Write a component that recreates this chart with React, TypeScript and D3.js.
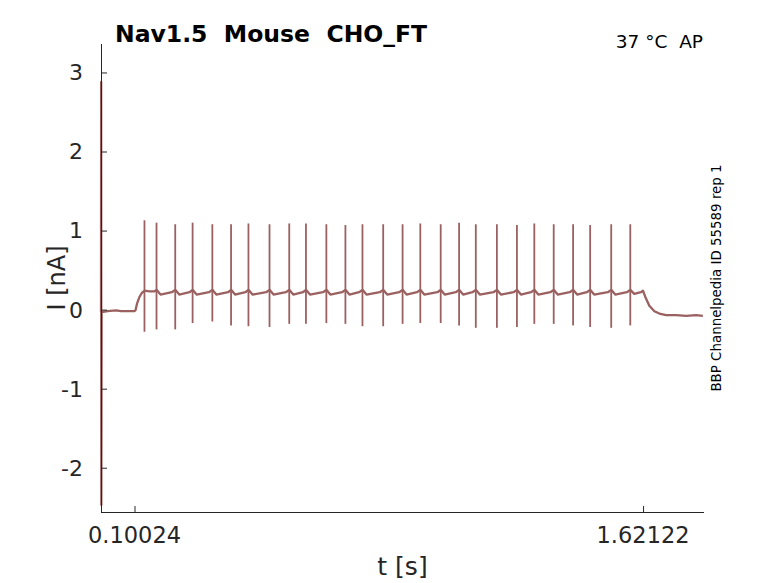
import React, { useEffect, useRef } from 'react'
import * as d3 from 'd3'

// trace key points (t in s, I in nA)
const baseT = [
  0, 0.0005, 0.001, 0.002, 0.02, 0.045, 0.06, 0.08, 0.1, 0.103, 0.108, 0.115, 0.122, 0.128,
  0.13, 0.145, 0.16, 0.166, 0.178, 0.212, 0.222, 0.234, 0.265, 0.274, 0.286, 0.323, 0.333, 0.345,
  0.38, 0.389, 0.401, 0.432, 0.441, 0.453, 0.494, 0.504, 0.516, 0.553, 0.563, 0.575, 0.604, 0.613,
  0.625, 0.664, 0.674, 0.686, 0.721, 0.731, 0.743, 0.772, 0.782, 0.794, 0.834, 0.844, 0.856, 0.892,
  0.902, 0.914, 0.945, 0.955, 0.967, 1.006, 1.016, 1.028, 1.061, 1.071, 1.083, 1.111, 1.121, 1.133,
  1.174, 1.184, 1.196, 1.234, 1.244, 1.256, 1.286, 1.296, 1.308, 1.344, 1.354, 1.366, 1.402, 1.412,
  1.424, 1.453, 1.463, 1.475, 1.516, 1.526, 1.538, 1.573, 1.583, 1.595, 1.615, 1.621, 1.628, 1.64,
  1.655, 1.67, 1.69, 1.72, 1.75, 1.78, 1.8,
]
const baseI = [
  -0.03, 2.88, -2.47, -0.03, -0.02, -0.01, -0.02, -0.02, -0.02, -0.01, 0.08, 0.16, 0.21, 0.23,
  0.24, 0.23, 0.23, 0.25, 0.19, 0.22, 0.25, 0.19, 0.22, 0.25, 0.19, 0.22, 0.25, 0.19,
  0.22, 0.25, 0.19, 0.22, 0.25, 0.19, 0.22, 0.25, 0.19, 0.22, 0.25, 0.19, 0.22, 0.25,
  0.19, 0.22, 0.25, 0.19, 0.22, 0.25, 0.19, 0.22, 0.25, 0.19, 0.22, 0.25, 0.19, 0.22,
  0.25, 0.19, 0.22, 0.25, 0.19, 0.22, 0.25, 0.19, 0.22, 0.25, 0.19, 0.22, 0.25, 0.19,
  0.22, 0.25, 0.19, 0.22, 0.25, 0.19, 0.22, 0.25, 0.19, 0.22, 0.25, 0.19, 0.22, 0.25,
  0.19, 0.22, 0.25, 0.19, 0.22, 0.25, 0.19, 0.22, 0.25, 0.2, 0.22, 0.24, 0.16, 0.05,
  -0.02, -0.05, -0.07, -0.07, -0.08, -0.07, -0.08,
]

// action potential spikes
const spikeT = [
  0.13, 0.166, 0.222, 0.274, 0.333, 0.389, 0.441, 0.504, 0.563, 0.613, 0.674, 0.731, 0.782, 0.844,
  0.902, 0.955, 1.016, 1.071, 1.121, 1.184, 1.244, 1.296, 1.354, 1.412, 1.463, 1.526, 1.583,
]
const spikePeak = [
  1.13, 1.1, 1.08, 1.1, 1.08, 1.08, 1.09, 1.08, 1.09, 1.09, 1.08, 1.07, 1.08, 1.08,
  1.08, 1.09, 1.08, 1.1, 1.08, 1.08, 1.07, 1.09, 1.08, 1.08, 1.07, 1.08, 1.08,
]
const spikeTrough = [
  -0.28, -0.25, -0.25, -0.17, -0.15, -0.2, -0.21, -0.22, -0.18, -0.18, -0.17, -0.18, -0.21, -0.21,
  -0.18, -0.17, -0.17, -0.2, -0.23, -0.23, -0.22, -0.18, -0.18, -0.2, -0.22, -0.23, -0.2,
]

const xTicks = [0.10024, 1.62122]
const yTicks = [-2, -1, 0, 1, 2, 3]

const W = 778
const H = 583
const left = 101
const right = 704
const top = 44
const bottom = 512
const traceColor = '#9b6060'
const axisColor = '#262626'
const font = '"DejaVu Sans", sans-serif'

const App = () => {
  const refSvg = useRef<SVGSVGElement>(null)

  const draw = () => {
    const svg = d3.select(refSvg.current)
    svg.selectAll('*').remove()

    const x = d3.scaleLinear().domain([0, 1.8035]).range([left, right])
    const y = d3.scaleLinear().domain([-2.56, 3.36]).range([bottom, top])

    const pts: [number, number][] = baseT.map((t, i) => [t, baseI[i]])

    svg
      .append('path')
      .datum(pts)
      .attr('fill', 'none')
      .attr('stroke', traceColor)
      .attr('stroke-width', 2.3)
      .attr('stroke-linejoin', 'round')
      .attr(
        'd',
        d3
          .line<[number, number]>()
          .x((d) => x(d[0]))
          .y((d) => y(d[1]))
      )

    svg
      .append('g')
      .selectAll('line')
      .data(spikeT)
      .join('line')
      .attr('x1', (d) => x(d))
      .attr('x2', (d) => x(d))
      .attr('y1', (d, i) => y(spikeTrough[i]))
      .attr('y2', (d, i) => y(spikePeak[i]))
      .attr('stroke', traceColor)
      .attr('stroke-width', 1.8)

    // y axis, ticks inside
    const gy = svg
      .append('g')
      .attr('transform', `translate(${left},0)`)
      .call(d3.axisRight(y).tickValues(yTicks).tickSize(6).tickFormat(() => ''))
    gy.select('.domain').attr('d', `M0.5,${top}V${bottom}`).attr('stroke', axisColor)
    gy.selectAll('.tick line').attr('stroke', axisColor)

    svg
      .append('g')
      .selectAll('text')
      .data(yTicks)
      .join('text')
      .attr('x', left - 18)
      .attr('y', (d) => y(d))
      .attr('dy', '0.36em')
      .attr('text-anchor', 'end')
      .attr('font-family', font)
      .attr('font-size', 22)
      .attr('fill', axisColor)
      .text((d) => String(d))

    // x axis, ticks inside
    const gx = svg
      .append('g')
      .attr('transform', `translate(0,${bottom})`)
      .call(d3.axisTop(x).tickValues(xTicks).tickSize(6).tickFormat(() => ''))
    gx.select('.domain').attr('d', `M${left},0.5H${right}`).attr('stroke', axisColor)
    gx.selectAll('.tick line').attr('stroke', axisColor)

    svg
      .append('g')
      .selectAll('text')
      .data(xTicks)
      .join('text')
      .attr('x', (d) => x(d))
      .attr('y', 543)
      .attr('text-anchor', 'middle')
      .attr('font-family', font)
      .attr('font-size', 22.5)
      .attr('fill', axisColor)
      .text((d) => String(d))

    svg
      .append('text')
      .attr('x', (left + right) / 2)
      .attr('y', 575)
      .attr('text-anchor', 'middle')
      .attr('font-family', font)
      .attr('font-size', 25)
      .attr('fill', axisColor)
      .text('t [s]')

    svg
      .append('text')
      .attr('transform', `translate(65,${(top + bottom) / 2}) rotate(-90)`)
      .attr('text-anchor', 'middle')
      .attr('font-family', font)
      .attr('font-size', 24)
      .attr('fill', axisColor)
      .text('I [nA]')

    svg
      .append('text')
      .attr('x', 115)
      .attr('y', 42)
      .attr('font-family', font)
      .attr('font-size', 23.5)
      .attr('font-weight', 'bold')
      .attr('fill', '#000')
      .style('white-space', 'pre')
      .text('Nav1.5  Mouse  CHO_FT')

    svg
      .append('text')
      .attr('x', 703)
      .attr('y', 48)
      .attr('text-anchor', 'end')
      .attr('font-family', font)
      .attr('font-size', 18.5)
      .attr('fill', '#000')
      .style('white-space', 'pre')
      .text('37 °C  AP')

    svg
      .append('text')
      .attr('transform', `translate(721,${(top + bottom) / 2}) rotate(-90)`)
      .attr('text-anchor', 'middle')
      .attr('font-family', font)
      .attr('font-size', 13.4)
      .attr('fill', '#000')
      .text('BBP Channelpedia ID 55589 rep 1')
  }

  useEffect(() => {
    if (refSvg) {
      draw()
    }
  })

  return (
    <svg
      ref={refSvg}
      width={W}
      height={H}
      style={{ position: 'absolute', left: 0, top: 0, background: '#fff' }}
    />
  )
}

export default App
